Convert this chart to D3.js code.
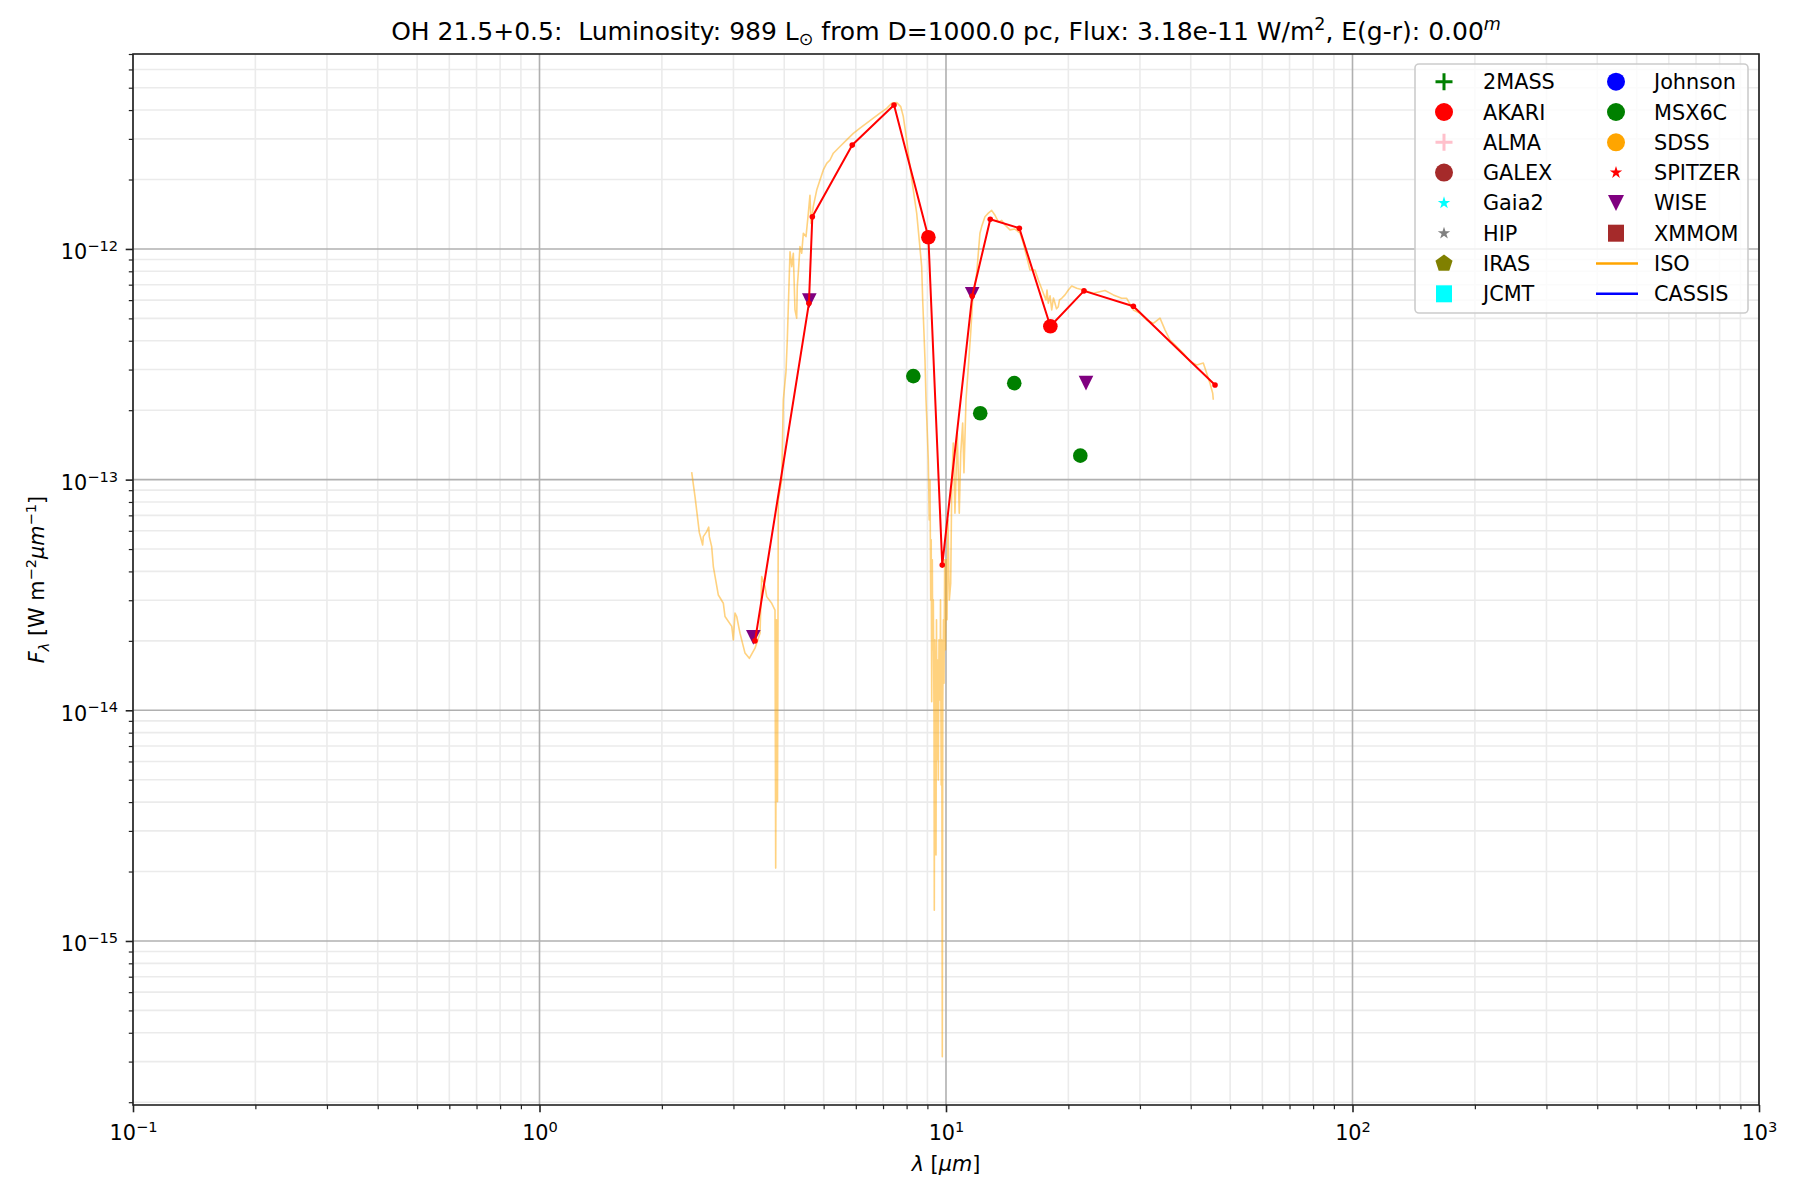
<!DOCTYPE html>
<html>
<head>
<meta charset="utf-8">
<script src="https://cdn.jsdelivr.net/npm/d3@7"></script>
<style>
  body { margin: 0; background: #fff; }
  svg { font-family: "DejaVu Sans", sans-serif; }
</style>
</head>
<body>
<div class="sed__board"></div>
<script>
// ISO spectrum, micron / W m^-2 um^-1
const isoWave = [
  2.368, 2.413, 2.473, 2.520, 2.529, 2.578, 2.608, 2.617, 2.652, 2.677,
  2.754, 2.833, 2.860, 2.971, 2.998, 3.027, 3.056, 3.113, 3.203, 3.282,
  3.390, 3.487, 3.521, 3.587, 3.622, 3.726, 3.796, 3.811, 3.828, 3.850,
  3.868, 3.943, 3.979, 4.040, 4.070, 4.133, 4.173, 4.211, 4.251, 4.292,
  4.307, 4.331, 4.373, 4.416, 4.457, 4.525, 4.585, 4.628, 4.655, 4.716,
  4.808, 4.898, 4.991, 5.088, 5.184, 5.282, 5.486, 5.698, 5.916, 6.144,
  6.381, 6.625, 6.880, 7.146, 7.354, 7.565, 7.738, 7.852, 8.004, 8.155,
  8.309, 8.470, 8.595, 8.713, 8.763, 8.828, 8.878, 8.929, 8.964, 9.046,
  9.096, 9.134, 9.170, 9.196, 9.222, 9.254, 9.275, 9.307, 9.344, 9.359,
  9.380, 9.413, 9.450, 9.476, 9.504, 9.541, 9.574, 9.612, 9.666, 9.694,
  9.732, 9.759, 9.793, 9.820, 9.859, 9.887, 9.926, 9.972, 10.02, 10.06,
  10.11, 10.19, 10.27, 10.33, 10.42, 10.52, 10.66, 10.78, 10.87, 10.99,
  11.07, 11.20, 11.35, 11.50, 11.63, 11.90, 12.12, 12.24, 12.47, 12.71,
  12.95, 13.20, 13.45, 13.71, 13.97, 14.37, 14.78, 15.21, 15.49, 15.79,
  16.09, 16.55, 16.87, 17.36, 17.62, 17.72, 17.85, 18.03, 18.20, 18.38,
  18.54, 18.70, 18.89, 19.02, 19.26, 19.62, 20.00, 20.38, 20.97, 21.77,
  23.04, 24.61, 25.80, 27.05, 27.83, 28.90, 30.01, 31.16, 32.36, 33.61,
  34.57, 35.56, 36.94, 38.35, 39.84, 41.38, 42.95, 43.78, 44.60, 45.30,
  45.45
];
const isoFlux = [
  1.077e-13, 8.44e-14, 5.89e-14, 5.21e-14, 5.66e-14, 5.95e-14, 6.22e-14, 5.66e-14, 5.12e-14, 4.20e-14,
  3.16e-14, 2.91e-14, 2.55e-14, 2.31e-14, 2.02e-14, 2.64e-14, 2.55e-14, 2.16e-14, 1.77e-14, 1.68e-14,
  1.86e-14, 2.16e-14, 3.80e-14, 3.44e-14, 3.11e-14, 2.91e-14, 2.72e-14, 2.07e-15, 2.47e-14, 4.02e-15,
  8.17e-14, 9.97e-14, 2.22e-13, 2.94e-13, 4.03e-13, 9.73e-13, 8.38e-13, 9.58e-13, 5.44e-13, 5.01e-13,
  6.87e-13, 7.85e-13, 1.023e-12, 9.58e-13, 1.17e-12, 1.131e-12, 1.43e-12, 1.71e-12, 1.29e-12, 1.53e-12,
  1.80e-12, 1.99e-12, 2.20e-12, 2.35e-12, 2.43e-12, 2.60e-12, 2.78e-12, 2.97e-12, 3.17e-12, 3.34e-12,
  3.51e-12, 3.69e-12, 3.88e-12, 4.07e-12, 4.28e-12, 4.31e-12, 4.14e-12, 3.75e-12, 2.97e-12, 2.27e-12,
  1.80e-12, 1.43e-12, 1.09e-12, 8.38e-13, 6.01e-13, 4.31e-13, 3.30e-13, 2.22e-13, 1.87e-13, 1.22e-13,
  6.69e-14, 9.97e-14, 3.01e-14, 5.48e-14, 1.09e-14, 4.49e-14, 1.83e-14, 3.01e-14, 9.09e-15, 1.36e-15,
  2.02e-14, 1.11e-14, 2.36e-15, 2.47e-14, 6.10e-15, 1.65e-14, 4.99e-15, 2.02e-14, 1.11e-14, 3.01e-14,
  4.75e-15, 2.02e-14, 3.15e-16, 1.11e-14, 2.47e-14, 1.31e-14, 4.49e-14, 1.83e-14, 4.49e-14, 2.47e-14,
  6.69e-14, 3.01e-14, 3.56e-14, 9.33e-14, 1.44e-13, 7.15e-14, 1.59e-13, 7.15e-14, 1.30e-13, 1.76e-13,
  1.07e-13, 2.22e-13, 3.09e-13, 4.31e-13, 6.01e-13, 7.85e-13, 1.17e-12, 1.25e-12, 1.38e-12, 1.43e-12,
  1.47e-12, 1.40e-12, 1.31e-12, 1.33e-12, 1.27e-12, 1.21e-12, 1.22e-12, 1.17e-12, 1.06e-12, 9.26e-13,
  8.11e-13, 8.11e-13, 7.34e-13, 6.43e-13, 6.01e-13, 6.64e-13, 5.82e-13, 6.26e-13, 5.44e-13, 6.13e-13,
  5.82e-13, 5.50e-13, 5.62e-13, 6.01e-13, 6.11e-13, 6.32e-13, 6.64e-13, 6.91e-13, 6.76e-13, 6.64e-13,
  6.43e-13, 6.60e-13, 6.32e-13, 6.11e-13, 6.11e-13, 5.44e-13, 5.26e-13, 4.92e-13, 4.76e-13, 5.01e-13,
  4.46e-13, 4.03e-13, 3.77e-13, 3.53e-13, 3.25e-13, 3.14e-13, 3.20e-13, 2.89e-13, 2.62e-13, 2.37e-13,
  2.22e-13
];

// red connected points
const sedWave = [3.39, 4.60, 4.69, 5.88, 7.45, 9.05, 9.79, 11.6, 12.85, 15.15, 18.06, 21.85, 28.9, 45.9];
const sedFlux = [2.0e-14, 5.81e-13, 1.38e-12, 2.82e-12, 4.21e-12, 1.124e-12, 4.26e-14, 6.25e-13, 1.345e-12, 1.23e-12, 4.62e-13, 6.58e-13, 5.64e-13, 2.57e-13];

const akariWave = [9.05, 18.06];
const akariFlux = [1.124e-12, 4.62e-13];
const wiseWave = [3.357, 4.61, 11.6, 22.1];
const wiseFlux = [2.07e-14, 5.97e-13, 6.36e-13, 2.62e-13];
const msxWave = [8.31, 12.14, 14.72, 21.4];
const msxFlux = [2.81e-13, 1.94e-13, 2.62e-13, 1.27e-13];

const xDomain = [0.1, 1000];
const yDomain = [1.945e-16, 7.0e-12];
const xMajorTicks = [0.1, 1, 10, 100, 1000];
const xTickExp = ["\u22121", "0", "1", "2", "3"];
const yMajorTicks = [1e-15, 1e-14, 1e-13, 1e-12];
const yTickExp = ["\u221215", "\u221214", "\u221213", "\u221212"];

const legendNames = ["2MASS", "AKARI", "ALMA", "GALEX", "Gaia2", "HIP", "IRAS", "JCMT",
                     "Johnson", "MSX6C", "SDSS", "SPITZER", "WISE", "XMMOM", "ISO", "CASSIS"];
const legendColors = ["green", "red", "pink", "brown", "cyan", "gray", "olive", "cyan",
                      "blue", "green", "orange", "red", "purple", "brown", "orange", "blue"];
const legendShapes = ["plus", "circle", "plus", "circle", "star", "star", "pentagon", "square",
                      "circle", "circle", "circle", "star", "tri", "square", "line", "line"];

const w = 1800, h = 1200;
const margin = { top: 54, right: 41, bottom: 95, left: 133 };

const xScale = d3.scaleLog().domain(xDomain).range([margin.left, w - margin.right]);
const yScale = d3.scaleLog().domain(yDomain).range([h - margin.bottom, margin.top]);

// every 1..9 x 10^k inside the domain
const logTicks = (domain, majors) => {
  const out = [];
  for (let e = Math.floor(Math.log10(domain[0])); e <= Math.ceil(Math.log10(domain[1])); e++) {
    for (let m = 1; m <= 9; m++) {
      const v = +(m + 'e' + e);
      if (v >= domain[0] * 0.9999 && v <= domain[1] * 1.0001 && (m === 1) === majors) out.push(v);
    }
  }
  return out;
};
const xMinor = logTicks(xDomain, false);
const yMinor = logTicks(yDomain, false);

const svg = d3.select('.sed__board')
  .append('svg')
  .attr('width', w)
  .attr('height', h)
  .style('background', '#ffffff');

// grid
const grid = svg.append('g');
grid.selectAll('.xminor').data(xMinor).enter().append('line')
  .attr('x1', d => xScale(d)).attr('x2', d => xScale(d))
  .attr('y1', margin.top).attr('y2', h - margin.bottom)
  .attr('stroke', '#ebebeb').attr('stroke-width', 1.6);
grid.selectAll('.yminor').data(yMinor).enter().append('line')
  .attr('y1', d => yScale(d)).attr('y2', d => yScale(d))
  .attr('x1', margin.left).attr('x2', w - margin.right)
  .attr('stroke', '#ebebeb').attr('stroke-width', 1.6);
grid.selectAll('.xmajor').data(xMajorTicks).enter().append('line')
  .attr('x1', d => xScale(d)).attr('x2', d => xScale(d))
  .attr('y1', margin.top).attr('y2', h - margin.bottom)
  .attr('stroke', '#b0b0b0').attr('stroke-width', 1.6);
grid.selectAll('.ymajor').data(yMajorTicks).enter().append('line')
  .attr('y1', d => yScale(d)).attr('y2', d => yScale(d))
  .attr('x1', margin.left).attr('x2', w - margin.right)
  .attr('stroke', '#b0b0b0').attr('stroke-width', 1.6);

// ISO spectrum
const iso = isoWave.map((d, i) => ({ wave: d, flux: isoFlux[i] }));
const line = d3.line()
  .x(d => xScale(d.wave))
  .y(d => yScale(d.flux));

svg.append('path')
  .datum(iso)
  .attr('fill', 'none')
  .attr('stroke', 'orange')
  .attr('stroke-opacity', 0.5)
  .attr('stroke-width', 1.6)
  .attr('stroke-linejoin', 'round')
  .attr('d', line);

// MSX6C
svg.selectAll('.msx').data(msxWave).enter().append('circle')
  .attr('cx', d => xScale(d))
  .attr('cy', (d, i) => yScale(msxFlux[i]))
  .attr('r', 7.3)
  .attr('fill', 'green');

// WISE, downward triangles
const triPath = s => `M${-s / 2},${-s / 2}L${s / 2},${-s / 2}L0,${s / 2}Z`;
svg.selectAll('.wise').data(wiseWave).enter().append('path')
  .attr('transform', (d, i) => `translate(${xScale(d)},${yScale(wiseFlux[i])})`)
  .attr('d', triPath(14.6))
  .attr('fill', 'purple');

// red SED line
const sed = sedWave.map((d, i) => ({ wave: d, flux: sedFlux[i] }));
svg.append('path')
  .datum(sed)
  .attr('fill', 'none')
  .attr('stroke', 'red')
  .attr('stroke-width', 2)
  .attr('stroke-linejoin', 'round')
  .attr('d', line);
svg.selectAll('.seddot').data(sed).enter().append('circle')
  .attr('cx', d => xScale(d.wave))
  .attr('cy', d => yScale(d.flux))
  .attr('r', 2.8)
  .attr('fill', 'red');

// AKARI
svg.selectAll('.akari').data(akariWave).enter().append('circle')
  .attr('cx', d => xScale(d))
  .attr('cy', (d, i) => yScale(akariFlux[i]))
  .attr('r', 7.3)
  .attr('fill', 'red');

// axes
const xAxisMinor = d3.axisBottom(xScale).tickValues(xMinor).tickSize(4.2).tickFormat('').tickSizeOuter(0);
const xAxis = d3.axisBottom(xScale).tickValues(xMajorTicks).tickSize(7.3).tickFormat('').tickSizeOuter(0);
const yAxisMinor = d3.axisLeft(yScale).tickValues(yMinor).tickSize(4.2).tickFormat('').tickSizeOuter(0);
const yAxis = d3.axisLeft(yScale).tickValues(yMajorTicks).tickSize(7.3).tickFormat('').tickSizeOuter(0);

const styleAxis = (g, width) => {
  g.select('.domain').remove();
  g.attr('color', '#222').attr('font-family', 'DejaVu Sans').attr('font-size', 20.8);
  g.selectAll('.tick line').attr('stroke-width', width);
};

svg.append('g')
  .attr('transform', `translate(0, ${h - margin.bottom})`)
  .call(xAxisMinor).call(g => styleAxis(g, 1.2));
svg.append('g')
  .attr('transform', `translate(${margin.left}, 0)`)
  .call(yAxisMinor).call(g => styleAxis(g, 1.2));

svg.append('g')
  .attr('transform', `translate(0, ${h - margin.bottom})`)
  .call(xAxis).call(g => styleAxis(g, 1.6))
  .call(g => g.selectAll('.tick text')
    .attr('y', 35).attr('dy', null).attr('fill', '#000')
    .each(function (d, i) {
      const t = d3.select(this).text(null);
      t.append('tspan').text('10');
      t.append('tspan').attr('dy', -8.5).attr('font-size', 14.6).text(xTickExp[i]);
    }));

svg.append('g')
  .attr('transform', `translate(${margin.left}, 0)`)
  .call(yAxis).call(g => styleAxis(g, 1.6))
  .call(g => g.selectAll('.tick text')
    .attr('x', -15).attr('y', 10).attr('dy', null).attr('fill', '#000')
    .each(function (d, i) {
      const t = d3.select(this).text(null);
      t.append('tspan').text('10');
      t.append('tspan').attr('dy', -8.5).attr('font-size', 14.6).text(yTickExp[i]);
    }));

// spines
svg.append('rect')
  .attr('x', margin.left).attr('y', margin.top)
  .attr('width', w - margin.left - margin.right)
  .attr('height', h - margin.top - margin.bottom)
  .attr('fill', 'none').attr('stroke', '#222').attr('stroke-width', 1.6);

// title
const title = svg.append('text')
  .attr('x', (margin.left + w - margin.right) / 2).attr('y', 40)
  .attr('text-anchor', 'middle').attr('font-size', 25)
  .style('white-space', 'pre');
title.append('tspan').text('OH 21.5+0.5:  Luminosity: 989 L');
title.append('tspan').attr('dy', 5).attr('font-size', 17.5).text('\u2299');
title.append('tspan').attr('dy', -5).text(' from D=1000.0 pc, Flux: 3.18e-11 W/m');
title.append('tspan').attr('dy', -10).attr('font-size', 17.5).text('2');
title.append('tspan').attr('dy', 10).text(', E(g-r): 0.00');
title.append('tspan').attr('dy', -10).attr('font-size', 17.5).attr('font-style', 'italic').text('m');

// axis labels
const xl = svg.append('text')
  .attr('x', (margin.left + w - margin.right) / 2).attr('y', 1171)
  .attr('text-anchor', 'middle').attr('font-size', 20.8)
  .style('white-space', 'pre');
xl.append('tspan').attr('font-style', 'italic').text('\u03bb');
xl.append('tspan').text(' [');
xl.append('tspan').attr('font-style', 'italic').text('\u03bcm');
xl.append('tspan').text(']');

const yl = svg.append('text')
  .attr('transform', `translate(44, ${(margin.top + h - margin.bottom) / 2}) rotate(-90)`)
  .attr('text-anchor', 'middle').attr('font-size', 20.8)
  .style('white-space', 'pre');
yl.append('tspan').attr('font-style', 'italic').text('F');
yl.append('tspan').attr('dy', 5).attr('font-size', 14.6).attr('font-style', 'italic').text('\u03bb');
yl.append('tspan').attr('dy', -5).text(' [W m');
yl.append('tspan').attr('dy', -8.5).attr('font-size', 14.6).text('\u22122');
yl.append('tspan').attr('dy', 8.5).attr('font-style', 'italic').text('\u03bcm');
yl.append('tspan').attr('dy', -8.5).attr('font-size', 14.6).text('\u22121');
yl.append('tspan').attr('dy', 8.5).text(']');

// legend
const lg = svg.append('g');
lg.append('rect')
  .attr('x', 1415).attr('y', 64).attr('width', 333).attr('height', 249)
  .attr('rx', 4)
  .attr('fill', '#fff').attr('fill-opacity', 0.8)
  .attr('stroke', '#cccccc').attr('stroke-width', 1.6);

const pentPath = s => d3.line()(d3.range(5).map(k => {
  const a = -Math.PI / 2 + k * 2 * Math.PI / 5;
  return [s / 2 * Math.cos(a), s / 2 * Math.sin(a)];
})) + 'Z';

legendNames.forEach((name, i) => {
  const col = i < 8 ? 0 : 1;
  const row = i % 8;
  const cy = 81.7 + row * 30.3;
  const mx = col === 0 ? 1444 : 1616;
  const tx = col === 0 ? 1483 : 1654;
  const color = legendColors[i];
  const shape = legendShapes[i];
  const item = lg.append('g').attr('transform', `translate(${mx},${cy})`);
  if (shape === 'circle') {
    item.append('circle').attr('r', 9).attr('fill', color);
  } else if (shape === 'plus') {
    item.append('path').attr('d', 'M-8.5,0H8.5M0,-8.5V8.5').attr('stroke', color).attr('stroke-width', 3);
  } else if (shape === 'star') {
    item.append('path').attr('d', d3.symbol(d3.symbolStar, 48)()).attr('fill', color);
  } else if (shape === 'pentagon') {
    item.append('path').attr('d', pentPath(18)).attr('fill', color);
  } else if (shape === 'square') {
    item.append('rect').attr('x', -8).attr('y', -8.5).attr('width', 16).attr('height', 17).attr('fill', color);
  } else if (shape === 'tri') {
    item.append('path').attr('d', triPath(16)).attr('fill', color);
  } else if (shape === 'line') {
    item.append('line').attr('x1', -20).attr('x2', 22).attr('stroke', color).attr('stroke-width', 2.5);
  }
  lg.append('text')
    .attr('x', tx).attr('y', cy + 7.5)
    .attr('font-size', 20.8)
    .text(name);
});
</script>
</body>
</html>
